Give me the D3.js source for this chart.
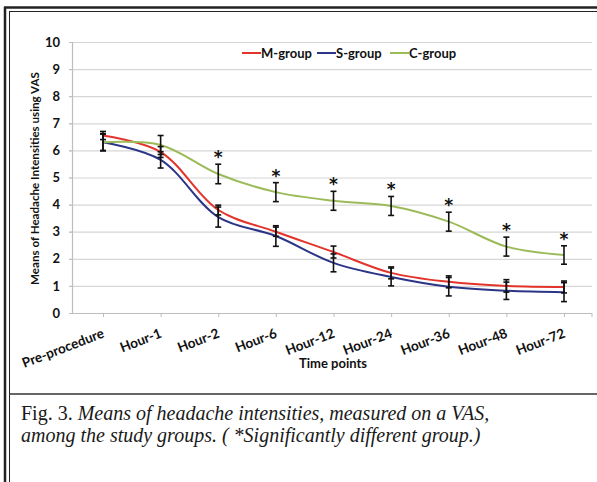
<!DOCTYPE html>
<html>
<head>
<meta charset="utf-8">
<script src="https://cdn.jsdelivr.net/npm/d3@7"></script>
<style>
  html, body { margin: 0; padding: 0; background: #fff; }
  svg { display: block; }
  .lbl { font-family: Lato, "Open Sans", sans-serif; font-weight: bold; fill: #111; }
  .star { font-family: "DejaVu Sans", sans-serif; font-weight: bold; fill: #111; }
</style>
</head>
<body>
<svg id="chart" width="597" height="482"></svg>
<script>
// ---- data ----
const categories = ["Pre-procedure", "Hour-1", "Hour-2", "Hour-6", "Hour-12", "Hour-24", "Hour-36", "Hour-48", "Hour-72"];
const seriesNames = ["M-group", "S-group", "C-group"];
const mGroup = [6.55, 5.94, 3.80, 3.00, 2.25, 1.48, 1.15, 1.00, 0.96];
const sGroup = [6.30, 5.65, 3.54, 2.84, 1.85, 1.33, 0.97, 0.82, 0.77];
const cGroup = [6.30, 6.20, 5.13, 4.46, 4.14, 3.95, 3.37, 2.45, 2.14];
const mError = [0.15, 0.20, 0.18, 0.17, 0.22, 0.22, 0.22, 0.23, 0.22];
const sError = [0.32, 0.30, 0.37, 0.38, 0.33, 0.33, 0.34, 0.32, 0.35];
const cError = [0.30, 0.35, 0.36, 0.35, 0.35, 0.35, 0.35, 0.35, 0.34];
const significant = [false, false, true, true, true, true, true, true, true];
const yTicks = [0, 1, 2, 3, 4, 5, 6, 7, 8, 9, 10];
const colors = ["#e3342c", "#2b3587", "#9bbb59"];

const seriesValues = [mGroup, sGroup, cGroup];
const seriesErrors = [mError, sError, cError];

const svg = d3.select("#chart");

// ---- frame ----
svg.append("line").attr("x1", 5).attr("x2", 5).attr("y1", 7).attr("y2", 482).attr("stroke", "#222").attr("stroke-width", 2.5);
svg.append("line").attr("x1", 9.5).attr("x2", 9.5).attr("y1", 11).attr("y2", 482).attr("stroke", "#222").attr("stroke-width", 1);
svg.append("line").attr("x1", 4).attr("x2", 597).attr("y1", 7.5).attr("y2", 7.5).attr("stroke", "#222").attr("stroke-width", 2.5);
svg.append("line").attr("x1", 9).attr("x2", 597).attr("y1", 11.5).attr("y2", 11.5).attr("stroke", "#222").attr("stroke-width", 1);
svg.append("line").attr("x1", 9).attr("x2", 597).attr("y1", 394).attr("y2", 394).attr("stroke", "#333").attr("stroke-width", 1.5);

// ---- scales ----
const plotLeft = 72, plotRight = 592, plotTop = 42, plotBottom = 313;
const x = d3.scalePoint().domain(categories).range([103, 564]);
const y = d3.scaleLinear().domain([0, 10]).range([plotBottom, plotTop]);

// gridlines
svg.append("g").selectAll("line").data(yTicks.filter(d => d > 0)).join("line")
  .attr("x1", plotLeft - 3).attr("x2", plotRight)
  .attr("y1", d => y(d) + 0.5).attr("y2", d => y(d) + 0.5)
  .attr("stroke", "#d6d6d6").attr("stroke-width", 1.2);

// y axis
const yAxis = svg.append("g").attr("transform", `translate(${plotLeft},0)`)
  .call(d3.axisLeft(y).tickValues(yTicks).tickSize(3).tickPadding(9).tickFormat(d3.format("d")));
yAxis.select(".domain").attr("stroke", "#bdbdbd").attr("stroke-width", 1.2);
yAxis.selectAll(".tick line").attr("stroke", "#bdbdbd");
yAxis.selectAll("text").attr("class", "lbl").style("font-size", "13px");

// x axis
const xAxis = svg.append("g").attr("transform", `translate(0,${plotBottom})`)
  .call(d3.axisBottom(x).tickSize(4).tickFormat(""));
xAxis.select(".domain").attr("d", `M${plotLeft},0.5H${plotRight}`).attr("stroke", "#bdbdbd").attr("stroke-width", 1.2);
xAxis.selectAll(".tick line").attr("stroke", "#bdbdbd");
svg.append("line").attr("x1", plotRight).attr("x2", plotRight).attr("y1", plotBottom).attr("y2", plotBottom + 4).attr("stroke", "#bdbdbd");

svg.append("g").selectAll("text").data(categories).join("text")
  .attr("class", "lbl")
  .attr("transform", d => `translate(${x(d) + 2},337) rotate(-21)`)
  .attr("text-anchor", "end")
  .style("font-size", "13.5px")
  .text(d => d);

// axis titles
svg.append("text").attr("class", "lbl")
  .attr("transform", `translate(39,${(plotTop + plotBottom) / 2 + 1}) rotate(-90)`)
  .attr("text-anchor", "middle").style("font-size", "11.6px")
  .text("Means of Headache Intensities using VAS");
svg.append("text").attr("class", "lbl")
  .attr("x", 333).attr("y", 368).attr("text-anchor", "middle").style("font-size", "13px")
  .text("Time points");

// ---- lines ----
const line = d3.line().x((d, i) => x(categories[i])).y(d => y(d)).curve(d3.curveCatmullRom.alpha(0.5));
seriesValues.forEach((vals, si) => {
  svg.append("path").datum(vals).attr("d", line)
    .attr("fill", "none").attr("stroke", colors[si]).attr("stroke-width", 2);
});

// ---- error bars ----
seriesValues.forEach((vals, si) => {
  const g = svg.append("g").attr("stroke", "#111").attr("stroke-width", 1.6);
  vals.forEach((v, i) => {
    const cx = x(categories[i]);
    const e = seriesErrors[si][i];
    g.append("line").attr("x1", cx).attr("x2", cx).attr("y1", y(v + e)).attr("y2", y(v - e));
    g.append("line").attr("x1", cx - 3).attr("x2", cx + 3).attr("y1", y(v + e)).attr("y2", y(v + e));
    g.append("line").attr("x1", cx - 3).attr("x2", cx + 3).attr("y1", y(v - e)).attr("y2", y(v - e));
  });
});

// ---- significance asterisks ----
svg.append("g").selectAll("text").data(categories.filter((c, i) => significant[i])).join("text")
  .attr("class", "star")
  .attr("x", d => x(d))
  .attr("y", d => { const i = categories.indexOf(d); return y(cGroup[i] + cError[i]) - 1; })
  .attr("text-anchor", "middle").style("font-size", "17px")
  .text("*");

// ---- legend ----
const legendX = [242, 317, 390];
const legend = svg.append("g");
seriesNames.forEach((n, i) => {
  legend.append("line").attr("x1", legendX[i]).attr("x2", legendX[i] + 19)
    .attr("y1", 53).attr("y2", 53).attr("stroke", colors[i]).attr("stroke-width", 2);
  legend.append("text").attr("class", "lbl").attr("x", legendX[i] + 19).attr("y", 57.5)
    .style("font-size", "13px").text(n);
});

// ---- caption ----
const cap = svg.append("g").style("font-family", "'Liberation Serif', 'Times New Roman', serif").style("font-size", "20px").attr("fill", "#1a1a1a");
const t1 = cap.append("text").attr("x", 21).attr("y", 420);
t1.append("tspan").text("Fig. 3. ");
t1.append("tspan").style("font-style", "italic").text("Means of  headache intensities, measured on a VAS,");
cap.append("text").attr("x", 21).attr("y", 442).style("font-style", "italic")
  .text("among the study groups. ( *Significantly different group.)");
</script>
</body>
</html>
